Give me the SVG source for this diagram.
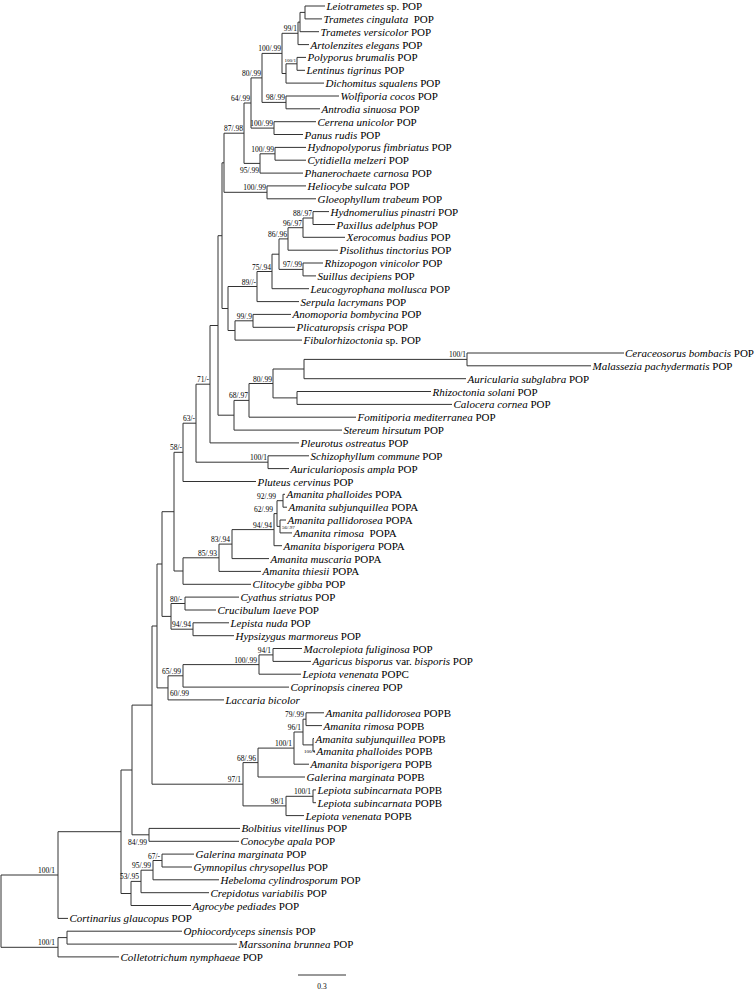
<svg xmlns="http://www.w3.org/2000/svg" width="755" height="992" viewBox="0 0 755 992">
<style>
.b{fill:none;stroke:#333;stroke-width:1}
.t{font-family:"Liberation Serif","Times New Roman",serif;font-size:11px;fill:#000}
.i{font-style:italic}
.s{font-family:"Liberation Serif","Times New Roman",serif;font-size:7.5px;fill:#000;text-anchor:end}
.ss{font-size:5px}
.st{text-anchor:start}
</style>
<rect width="755" height="992" fill="#fff"/>
<g id="branches" class="b">
<path d="M325 6 H305 V18.9 H322"/>
<path d="M305 12.4 H300 V31.7 H319"/>
<path d="M300 22.1 H298 V44.6 H309"/>
<path d="M306 57.4 H297 V70.3 H305"/>
<path d="M297 63.8 H286 V83.1 H324"/>
<path d="M298 33.3 H282 V73.5 H286"/>
<path d="M339 96 H286 V108.8 H320"/>
<path d="M282 53.4 H262 V102.4 H286"/>
<path d="M316 121.7 H274 V134.5 H303"/>
<path d="M262 77.9 H251 V128.1 H274"/>
<path d="M306 147.4 H275 V160.2 H306"/>
<path d="M275 153.8 H260 V173.1 H303"/>
<path d="M251 103 H244 V163.4 H260"/>
<path d="M306 185.9 H267 V198.8 H316"/>
<path d="M244 133.2 H224 V192.3 H267"/>
<path d="M329 211.6 H313 V224.5 H335"/>
<path d="M313 218 H303 V237.3 H345"/>
<path d="M303 227.7 H288 V250.2 H338"/>
<path d="M323 263 H303 V275.9 H316"/>
<path d="M288 238.9 H279 V269.4 H303"/>
<path d="M279 254.2 H272 V288.7 H309"/>
<path d="M272 271.5 H257 V301.6 H299"/>
<path d="M291 314.4 H253 V327.3 H295"/>
<path d="M253 320.8 H235 V340.1 H302"/>
<path d="M257 286.5 H228 V330.5 H235"/>
<path d="M224 162.8 H222 V308.5 H228"/>
<path d="M624 353 H467 V365.8 H591"/>
<path d="M467 359.4 H304 V378.7 H466"/>
<path d="M431 391.5 H297 V404.4 H452"/>
<path d="M304 369 H273 V397.9 H297"/>
<path d="M273 383.5 H249 V417.2 H356"/>
<path d="M249 400.4 H234 V430.1 H342"/>
<path d="M222 235.7 H218 V415.2 H234"/>
<path d="M218 325.5 H210 V442.9 H299"/>
<path d="M309 455.8 H268 V468.6 H289"/>
<path d="M210 384.2 H196 V462.2 H268"/>
<path d="M196 423.2 H183 V481.5 H256"/>
<path d="M285 494.3 H283 V507.2 H287"/>
<path d="M286 520 H280 V532.9 H292"/>
<path d="M283 500.7 H277 V526.4 H280"/>
<path d="M277 513.6 H274 V545.7 H282"/>
<path d="M274 529.6 H232 V558.6 H269"/>
<path d="M232 544.1 H219 V571.4 H261"/>
<path d="M219 557.8 H183 V584.3 H251"/>
<path d="M183 452.3 H174 V571 H183"/>
<path d="M239 597.1 H185 V610 H216"/>
<path d="M229 622.8 H193 V635.7 H234"/>
<path d="M185 603.5 H171 V629.2 H193"/>
<path d="M174 511.7 H162 V616.4 H171"/>
<path d="M302 648.5 H273 V661.4 H311"/>
<path d="M273 654.9 H259 V674.2 H301"/>
<path d="M259 664.6 H183 V687.1 H289"/>
<path d="M183 675.8 H168 V699.9 H224"/>
<path d="M162 564 H157 V687.9 H168"/>
<path d="M324 712.8 H306 V725.6 H322"/>
<path d="M314 738.5 H313 V751.3 H315"/>
<path d="M306 719.2 H303 V744.9 H313"/>
<path d="M303 732 H294 V764.2 H309"/>
<path d="M294 748.1 H258 V777 H305"/>
<path d="M316 789.9 H313 V802.7 H316"/>
<path d="M313 796.3 H286 V815.6 H304"/>
<path d="M258 762.6 H243 V805.9 H286"/>
<path d="M157 626 H152 V784.2 H243"/>
<path d="M240 828.4 H149 V841.3 H239"/>
<path d="M152 705.1 H132 V834.8 H149"/>
<path d="M194 854.1 H162 V867 H192"/>
<path d="M162 860.5 H153 V879.8 H219"/>
<path d="M153 870.2 H141 V892.7 H209"/>
<path d="M141 881.4 H131 V905.5 H191"/>
<path d="M132 770 H121 V893.5 H131"/>
<path d="M121 831.7 H58 V918.4 H68"/>
<path d="M182 931.2 H67 V944.1 H237"/>
<path d="M67 937.6 H58 V956.9 H119"/>
<path d="M58 875 H1 V947.3 H58"/>
</g>
<g id="support">
<text class="s" x="297" y="31">99/1</text>
<text class="s ss" x="296" y="62">100/1</text>
<text class="s" x="281" y="51.4">100/.99</text>
<text class="s" x="285" y="100.4">98/.99</text>
<text class="s" x="261" y="75.9">80/.99</text>
<text class="s" x="273" y="126.1">100/.99</text>
<text class="s" x="250" y="101">64/.99</text>
<text class="s" x="274" y="151.8">100/.99</text>
<text class="s" x="259" y="172.5">95/.99</text>
<text class="s" x="243" y="131.2">87/.98</text>
<text class="s" x="266" y="190.3">100/.99</text>
<text class="s" x="312" y="216">88/.97</text>
<text class="s" x="302" y="225.7">96/.97</text>
<text class="s" x="287" y="236.9">86/.96</text>
<text class="s" x="302" y="267.4">97/.99</text>
<text class="s" x="271" y="269.5">75/.94</text>
<text class="s" x="256" y="284.5">89//-</text>
<text class="s" x="252" y="318.8">99/.9</text>
<text class="s" x="466" y="357.4">100/1</text>
<text class="s" x="272" y="381.5">80/.99</text>
<text class="s" x="248" y="398.4">68/.97</text>
<text class="s" x="209" y="382.2">71/-</text>
<text class="s" x="267" y="460.2">100/1</text>
<text class="s" x="195" y="421.2">63/-</text>
<text class="s" x="182" y="450.3">58/-</text>
<text class="s" x="276" y="498.7">92/.99</text>
<text class="s" x="273" y="511.6">62/.99</text>
<text class="s ss st" x="282" y="529">56/.97</text>
<text class="s" x="272" y="527.6">94/.94</text>
<text class="s" x="230" y="542.1">83/.94</text>
<text class="s" x="217" y="555.8">85/.93</text>
<text class="s" x="182" y="601.5">80/-</text>
<text class="s" x="191" y="627.2">94/.94</text>
<text class="s" x="271" y="652.9">94/1</text>
<text class="s" x="257" y="662.6">100/.99</text>
<text class="s" x="181" y="673.8">65/.99</text>
<text class="s st" x="170" y="695.5">60/.99</text>
<text class="s" x="304" y="717.2">79/.99</text>
<text class="s" x="301" y="730">96/1</text>
<text class="s ss st" x="304" y="753">100/1</text>
<text class="s" x="292" y="746.1">100/1</text>
<text class="s" x="256" y="760.6">68/.96</text>
<text class="s" x="311" y="794.3">100/1</text>
<text class="s" x="284" y="803.9">98/1</text>
<text class="s" x="241" y="782.2">97/1</text>
<text class="s" x="147" y="845">84/.99</text>
<text class="s" x="160" y="858.5">67/-</text>
<text class="s" x="151" y="868.2">95/.99</text>
<text class="s" x="139" y="879.4">53/.95</text>
<text class="s" x="55" y="873">100/1</text>
<text class="s" x="55" y="945.3">100/1</text>
</g>
<g id="leaves" class="t">
<g id="leaf-01"><text x="326.5" y="10"><tspan class="i">Leiotrametes</tspan> sp. POP</text></g>
<g id="leaf-02"><text x="323.5" y="22.9" xml:space="preserve"><tspan class="i">Trametes cingulata</tspan>  POP</text></g>
<g id="leaf-03"><text x="320.5" y="35.7"><tspan class="i">Trametes versicolor</tspan> POP</text></g>
<g id="leaf-04"><text x="310.5" y="48.6"><tspan class="i">Artolenzites elegans</tspan> POP</text></g>
<g id="leaf-05"><text x="307.5" y="61.4"><tspan class="i">Polyporus brumalis</tspan> POP</text></g>
<g id="leaf-06"><text x="306.5" y="74.3"><tspan class="i">Lentinus tigrinus</tspan> POP</text></g>
<g id="leaf-07"><text x="325.5" y="87.1"><tspan class="i">Dichomitus squalens</tspan> POP</text></g>
<g id="leaf-08"><text x="340.5" y="100"><tspan class="i">Wolfiporia cocos</tspan> POP</text></g>
<g id="leaf-09"><text x="321.5" y="112.8"><tspan class="i">Antrodia sinuosa</tspan> POP</text></g>
<g id="leaf-10"><text x="317.5" y="125.7"><tspan class="i">Cerrena unicolor</tspan> POP</text></g>
<g id="leaf-11"><text x="304.5" y="138.5"><tspan class="i">Panus rudis</tspan> POP</text></g>
<g id="leaf-12"><text x="307.5" y="151.4"><tspan class="i">Hydnopolyporus fimbriatus</tspan> POP</text></g>
<g id="leaf-13"><text x="307.5" y="164.2"><tspan class="i">Cytidiella melzeri</tspan> POP</text></g>
<g id="leaf-14"><text x="304.5" y="177.1"><tspan class="i">Phanerochaete carnosa</tspan> POP</text></g>
<g id="leaf-15"><text x="307.5" y="189.9"><tspan class="i">Heliocybe sulcata</tspan> POP</text></g>
<g id="leaf-16"><text x="317.5" y="202.8"><tspan class="i">Gloeophyllum trabeum</tspan> POP</text></g>
<g id="leaf-17"><text x="330.5" y="215.6"><tspan class="i">Hydnomerulius pinastri</tspan> POP</text></g>
<g id="leaf-18"><text x="336.5" y="228.5"><tspan class="i">Paxillus adelphus</tspan> POP</text></g>
<g id="leaf-19"><text x="346.5" y="241.3"><tspan class="i">Xerocomus badius</tspan> POP</text></g>
<g id="leaf-20"><text x="339.5" y="254.2"><tspan class="i">Pisolithus tinctorius</tspan> POP</text></g>
<g id="leaf-21"><text x="324.5" y="267"><tspan class="i">Rhizopogon vinicolor</tspan> POP</text></g>
<g id="leaf-22"><text x="317.5" y="279.9"><tspan class="i">Suillus decipiens</tspan> POP</text></g>
<g id="leaf-23"><text x="310.5" y="292.7"><tspan class="i">Leucogyrophana mollusca</tspan> POP</text></g>
<g id="leaf-24"><text x="300.5" y="305.6"><tspan class="i">Serpula lacrymans</tspan> POP</text></g>
<g id="leaf-25"><text x="292.5" y="318.4"><tspan class="i">Anomoporia bombycina</tspan> POP</text></g>
<g id="leaf-26"><text x="296.5" y="331.3"><tspan class="i">Plicaturopsis crispa</tspan> POP</text></g>
<g id="leaf-27"><text x="303.5" y="344.1"><tspan class="i">Fibulorhizoctonia</tspan> sp. POP</text></g>
<g id="leaf-28"><text x="625" y="357"><tspan class="i">Ceraceosorus bombacis</tspan> POP</text></g>
<g id="leaf-29"><text x="592.5" y="369.8"><tspan class="i">Malassezia pachydermatis</tspan> POP</text></g>
<g id="leaf-30"><text x="467.5" y="382.7"><tspan class="i">Auricularia subglabra</tspan> POP</text></g>
<g id="leaf-31"><text x="432.5" y="395.5"><tspan class="i">Rhizoctonia solani</tspan> POP</text></g>
<g id="leaf-32"><text x="453.5" y="408.4"><tspan class="i">Calocera cornea</tspan> POP</text></g>
<g id="leaf-33"><text x="357.5" y="421.2"><tspan class="i">Fomitiporia mediterranea</tspan> POP</text></g>
<g id="leaf-34"><text x="343.5" y="434.1"><tspan class="i">Stereum hirsutum</tspan> POP</text></g>
<g id="leaf-35"><text x="300.5" y="446.9"><tspan class="i">Pleurotus ostreatus</tspan> POP</text></g>
<g id="leaf-36"><text x="310.5" y="459.8"><tspan class="i">Schizophyllum commune</tspan> POP</text></g>
<g id="leaf-37"><text x="290.5" y="472.6"><tspan class="i">Auricularioposis ampla</tspan> POP</text></g>
<g id="leaf-38"><text x="257.5" y="485.5"><tspan class="i">Pluteus cervinus</tspan> POP</text></g>
<g id="leaf-39"><text x="286.5" y="498.3"><tspan class="i">Amanita phalloides</tspan> POPA</text></g>
<g id="leaf-40"><text x="288.5" y="511.2"><tspan class="i">Amanita subjunquillea</tspan> POPA</text></g>
<g id="leaf-41"><text x="287.5" y="524"><tspan class="i">Amanita pallidorosea</tspan> POPA</text></g>
<g id="leaf-42"><text x="293.5" y="536.9" xml:space="preserve"><tspan class="i">Amanita rimosa</tspan>  POPA</text></g>
<g id="leaf-43"><text x="283.5" y="549.7"><tspan class="i">Amanita bisporigera</tspan> POPA</text></g>
<g id="leaf-44"><text x="270.5" y="562.6"><tspan class="i">Amanita muscaria</tspan> POPA</text></g>
<g id="leaf-45"><text x="262.5" y="575.4"><tspan class="i">Amanita thiesii</tspan> POPA</text></g>
<g id="leaf-46"><text x="252.5" y="588.3"><tspan class="i">Clitocybe gibba</tspan> POP</text></g>
<g id="leaf-47"><text x="240.5" y="601.1"><tspan class="i">Cyathus striatus</tspan> POP</text></g>
<g id="leaf-48"><text x="217.5" y="614"><tspan class="i">Crucibulum laeve</tspan> POP</text></g>
<g id="leaf-49"><text x="230.5" y="626.8"><tspan class="i">Lepista nuda</tspan> POP</text></g>
<g id="leaf-50"><text x="235.5" y="639.7"><tspan class="i">Hypsizygus marmoreus</tspan> POP</text></g>
<g id="leaf-51"><text x="303.5" y="652.5"><tspan class="i">Macrolepiota fuliginosa</tspan> POP</text></g>
<g id="leaf-52"><text x="312.5" y="665.4"><tspan class="i">Agaricus bisporus</tspan> var. <tspan class="i">bisporis</tspan> POP</text></g>
<g id="leaf-53"><text x="302.5" y="678.2"><tspan class="i">Lepiota venenata</tspan> POPC</text></g>
<g id="leaf-54"><text x="290.5" y="691.1"><tspan class="i">Coprinopsis cinerea</tspan> POP</text></g>
<g id="leaf-55"><text x="225.5" y="703.9"><tspan class="i">Laccaria bicolor</tspan></text></g>
<g id="leaf-56"><text x="325.5" y="716.8"><tspan class="i">Amanita pallidorosea</tspan> POPB</text></g>
<g id="leaf-57"><text x="323.5" y="729.6"><tspan class="i">Amanita rimosa</tspan> POPB</text></g>
<g id="leaf-58"><text x="315.5" y="742.5"><tspan class="i">Amanita subjunquillea</tspan> POPB</text></g>
<g id="leaf-59"><text x="316.5" y="755.3"><tspan class="i">Amanita phalloides</tspan> POPB</text></g>
<g id="leaf-60"><text x="310.5" y="768.2"><tspan class="i">Amanita bisporigera</tspan> POPB</text></g>
<g id="leaf-61"><text x="306.5" y="781"><tspan class="i">Galerina marginata</tspan> POPB</text></g>
<g id="leaf-62"><text x="317.5" y="793.9"><tspan class="i">Lepiota subincarnata</tspan> POPB</text></g>
<g id="leaf-63"><text x="317.5" y="806.7"><tspan class="i">Lepiota subincarnata</tspan> POPB</text></g>
<g id="leaf-64"><text x="305.5" y="819.6"><tspan class="i">Lepiota venenata</tspan> POPB</text></g>
<g id="leaf-65"><text x="241.5" y="832.4"><tspan class="i">Bolbitius vitellinus</tspan> POP</text></g>
<g id="leaf-66"><text x="240.5" y="845.3"><tspan class="i">Conocybe apala</tspan> POP</text></g>
<g id="leaf-67"><text x="195.5" y="858.1"><tspan class="i">Galerina marginata</tspan> POP</text></g>
<g id="leaf-68"><text x="193.5" y="871"><tspan class="i">Gymnopilus chrysopellus</tspan> POP</text></g>
<g id="leaf-69"><text x="220.5" y="883.8"><tspan class="i">Hebeloma cylindrosporum</tspan> POP</text></g>
<g id="leaf-70"><text x="210.5" y="896.7"><tspan class="i">Crepidotus variabilis</tspan> POP</text></g>
<g id="leaf-71"><text x="192.5" y="909.5"><tspan class="i">Agrocybe pediades</tspan> POP</text></g>
<g id="leaf-72"><text x="69.5" y="922.4"><tspan class="i">Cortinarius glaucopus</tspan> POP</text></g>
<g id="leaf-73"><text x="183.5" y="935.2"><tspan class="i">Ophiocordyceps sinensis</tspan> POP</text></g>
<g id="leaf-74"><text x="238.5" y="948.1"><tspan class="i">Marssonina brunnea</tspan> POP</text></g>
<g id="leaf-75"><text x="120.5" y="960.9"><tspan class="i">Colletotrichum nymphaeae</tspan> POP</text></g>
</g>
<g id="scale-bar">
<path class="b" d="M298 975 H346"/>
<text class="s" style="text-anchor:middle" x="322" y="989">0.3</text>
</g>
</svg>
